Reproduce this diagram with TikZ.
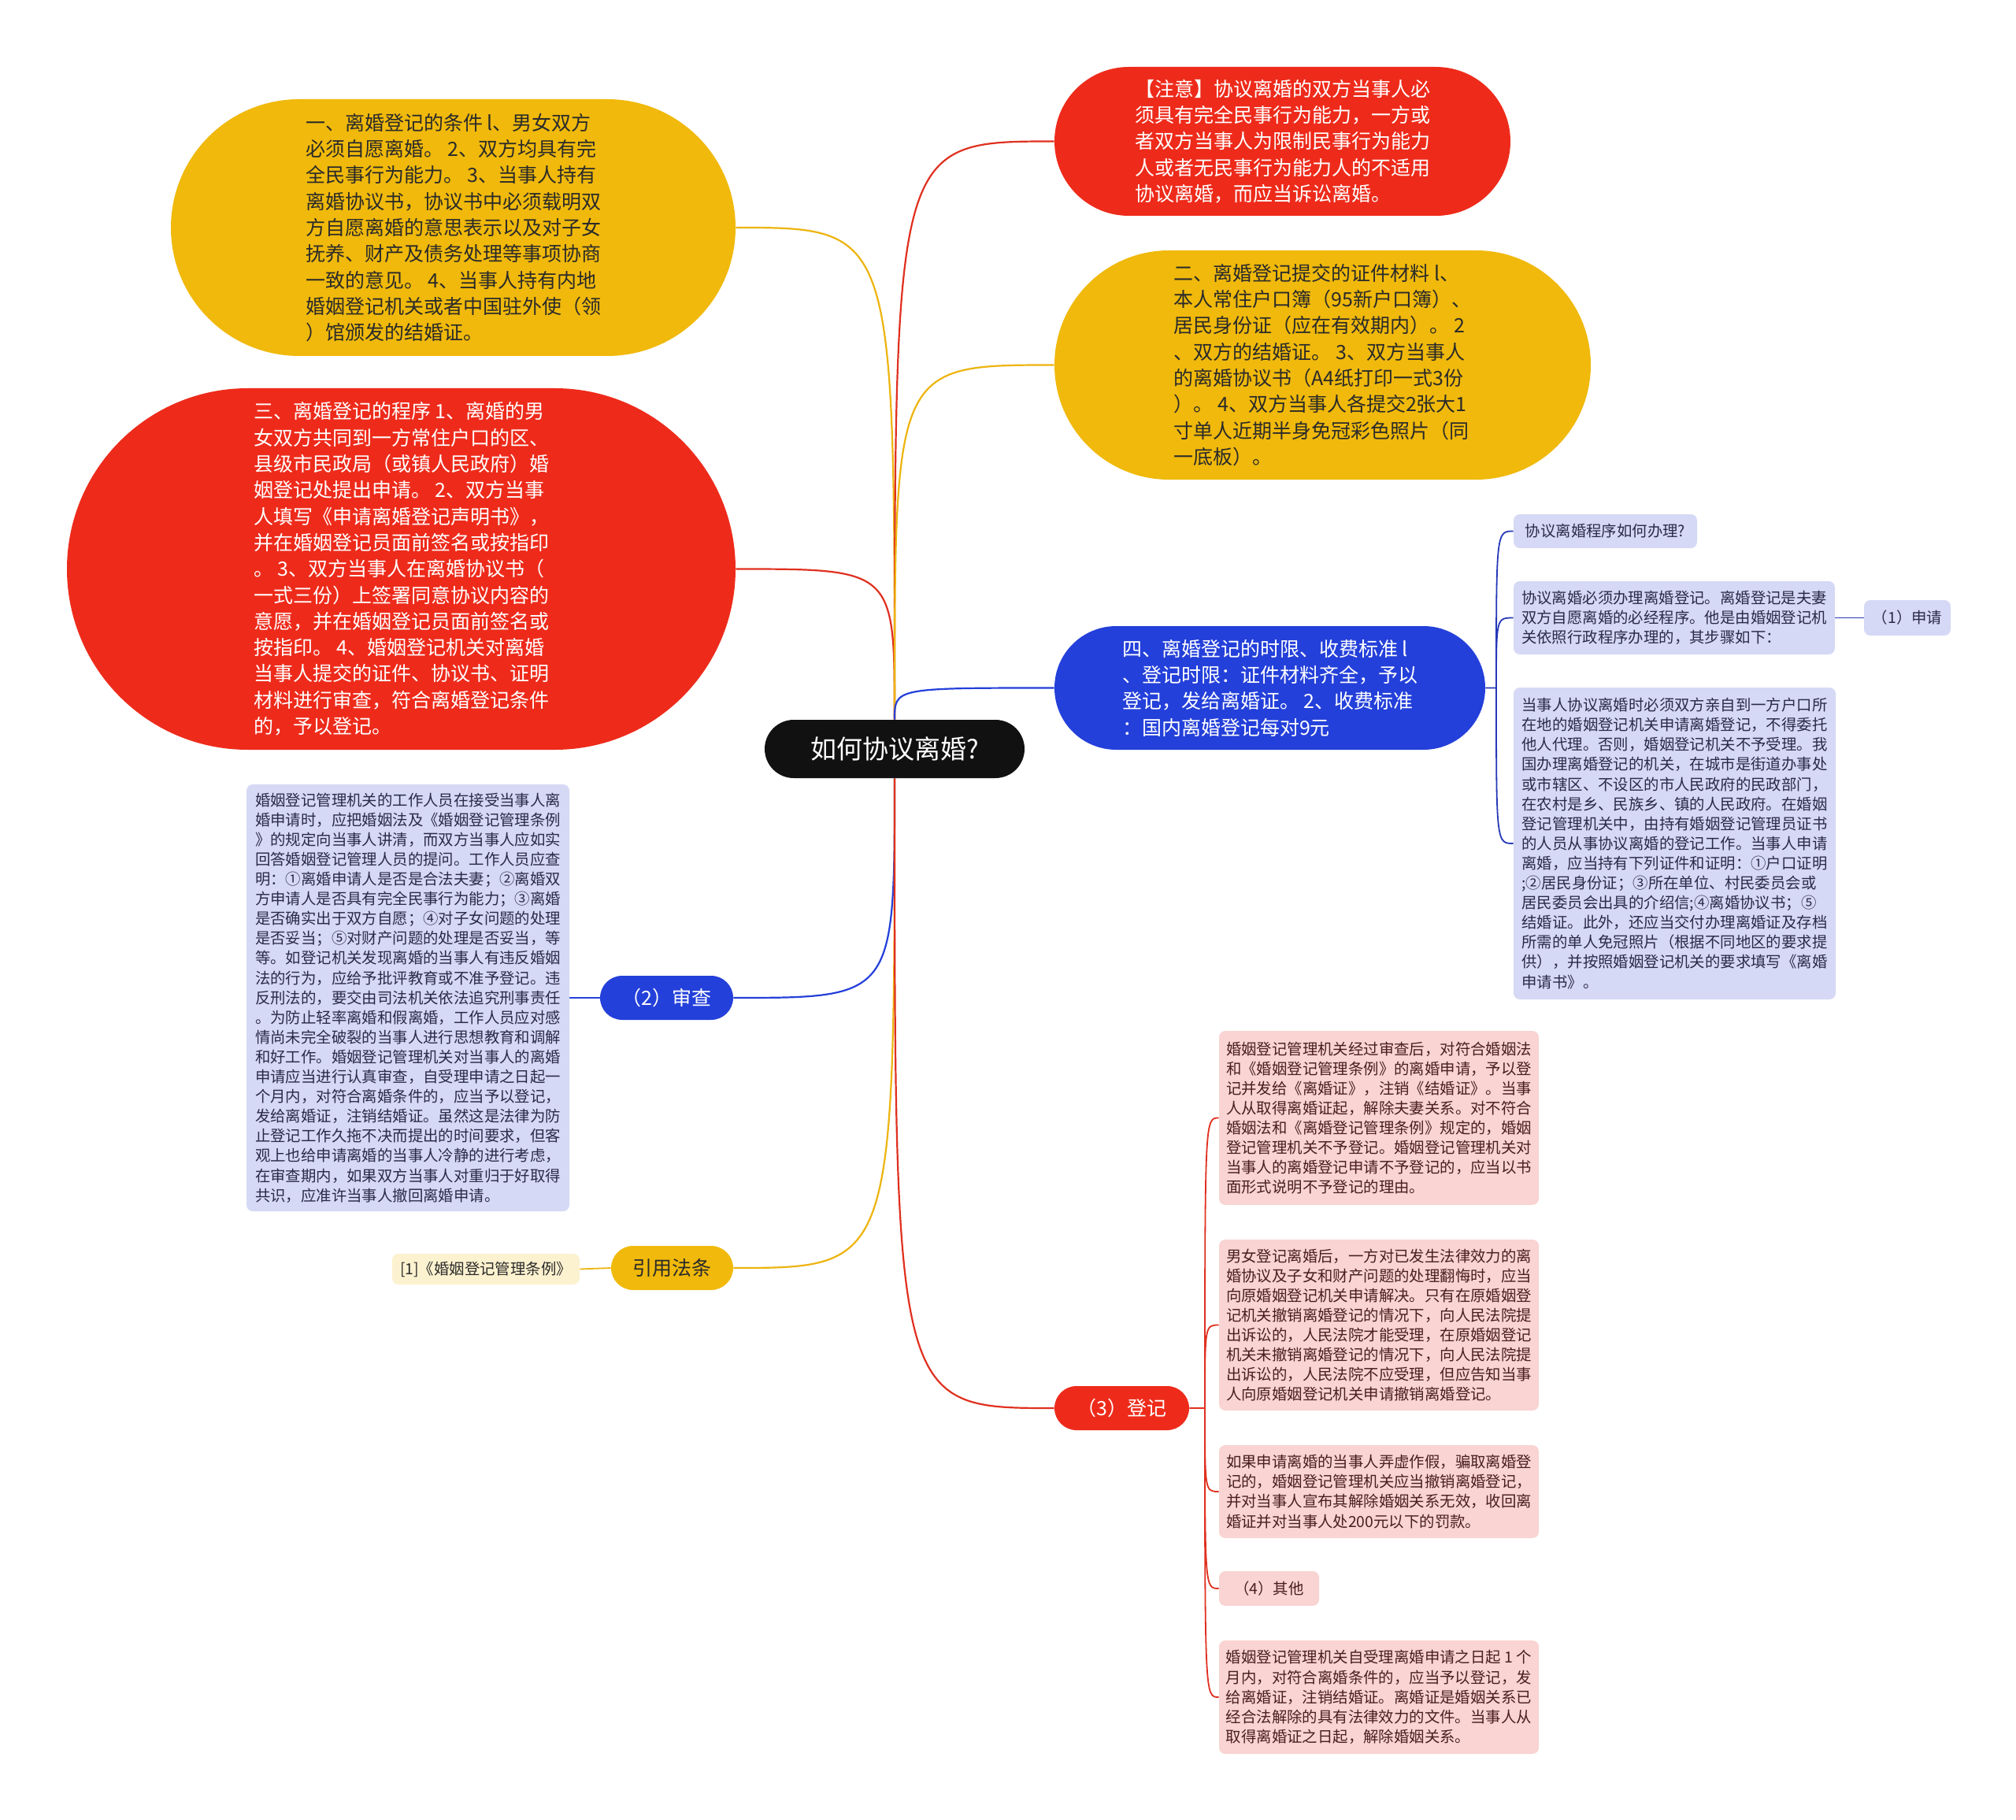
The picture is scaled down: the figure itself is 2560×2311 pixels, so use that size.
\documentclass[tikz,border=0pt]{standalone}
\usepackage{fontspec}
\setmainfont{Noto Sans CJK SC}
\pgfdeclarelayer{bg}
\pgfsetlayers{bg,main}
\definecolor{cyel}{HTML}{F0B90B}
\definecolor{cred}{HTML}{EE2B1B}
\definecolor{cblue}{HTML}{2440DA}
\definecolor{cdark}{HTML}{111111}
\definecolor{clav}{HTML}{D5D9F5}
\definecolor{cpink}{HTML}{F9D4D2}
\definecolor{clight}{HTML}{FDF2CF}
\definecolor{ctxt}{HTML}{2A2A2A}
\definecolor{clavtxt}{HTML}{2A2A48}
\definecolor{cpinktxt}{HTML}{4A1E1E}
\definecolor{lyel}{HTML}{EDB40E}
\definecolor{lred}{HTML}{E0301F}
\definecolor{lblue}{HTML}{2538B8}
\newcommand\bigtxt{\fontsize{12.5pt}{16.65pt}\selectfont}
\newcommand\smalltxt{\fontsize{9.7pt}{12.55pt}\selectfont}
\newcommand\ctrtxt{\fontsize{16.5pt}{20pt}\selectfont}
\tikzset{
 bubble/.style={inner sep=0pt, align=left, font=\bigtxt},
 pill/.style={inner sep=0pt, font=\bigtxt, rounded corners=14pt, minimum height=28pt},
 card/.style={inner sep=0pt, align=left, font=\smalltxt, rounded corners=4pt},
 lav/.style={card, fill=clav, text=clavtxt},
 pnk/.style={card, fill=cpink, text=cpinktxt, minimum width=203pt},
 mainline/.style={line width=1.1pt},
 subline/.style={line width=0.9pt},
}
\begin{document}
\begin{tikzpicture}[x=0.5pt,y=-0.5pt]
\useasboundingbox (0,0) rectangle (2560,2311);
% central
\node[fill=cdark, text=white, font=\ctrtxt, inner sep=0pt, minimum width=165pt, minimum height=37pt, rounded corners=18.5pt] (c) at (1136,951) {如何协议离婚?};
% bubbles
\node[bubble, fill=cyel, text=ctxt, minimum width=358.5pt, minimum height=163pt, rounded corners=81.5pt] (b1) at (575.5,289) {一、离婚登记的条件 l、男女双方\\必须自愿离婚。 2、双方均具有完\\全民事行为能力。 3、当事人持有\\离婚协议书，协议书中必须载明双\\方自愿离婚的意思表示以及对子女\\抚养、财产及债务处理等事项协商\\一致的意见。 4、当事人持有内地\\婚姻登记机关或者中国驻外使（领\\）馆颁发的结婚证。};
\node[bubble, fill=cred, text=white, minimum width=424.5pt, minimum height=229.5pt, rounded corners=114.75pt] (b3) at (509.5,722.5) {三、离婚登记的程序 1、离婚的男\\女双方共同到一方常住户口的区、\\县级市民政局（或镇人民政府）婚\\姻登记处提出申请。 2、双方当事\\人填写《申请离婚登记声明书》，\\并在婚姻登记员面前签名或按指印\\。 3、双方当事人在离婚协议书（\\一式三份）上签署同意协议内容的\\意愿，并在婚姻登记员面前签名或\\按指印。 4、婚姻登记机关对离婚\\当事人提交的证件、协议书、证明\\材料进行审查，符合离婚登记条件\\的，予以登记。};
\node[bubble, fill=cred, text=white, minimum width=289.5pt, minimum height=94.5pt, rounded corners=47.25pt] (bN) at (1628.5,179.5) {【注意】协议离婚的双方当事人必\\须具有完全民事行为能力，一方或\\者双方当事人为限制民事行为能力\\人或者无民事行为能力人的不适用\\协议离婚，而应当诉讼离婚。};
\node[bubble, fill=cyel, text=ctxt, minimum width=340.5pt, minimum height=145.5pt, rounded corners=72.75pt] (b2) at (1679.5,463.5) {二、离婚登记提交的证件材料 l、\\本人常住户口簿（95新户口簿）、\\居民身份证（应在有效期内）。 2\\、双方的结婚证。 3、双方当事人\\的离婚协议书（A4纸打印一式3份\\）。 4、双方当事人各提交2张大1\\寸单人近期半身免冠彩色照片（同\\一底板）。};
\node[bubble, fill=cblue, text=white, minimum width=273.5pt, minimum height=78.5pt, rounded corners=39.25pt] (b4) at (1612.5,873.5) {四、离婚登记的时限、收费标准 l\\、登记时限：证件材料齐全，予以\\登记，发给离婚证。 2、收费标准\\：国内离婚登记每对9元};
% pills
\node[pill, fill=cblue, text=white, minimum width=84.5pt] (p2) at (846.5,1267) {（2）审查};
\node[pill, fill=cyel, text=ctxt, minimum width=77.5pt] (pL) at (853.5,1610) {引用法条};
\node[pill, fill=cred, text=white, minimum width=85.5pt] (p3) at (1424.5,1788) {（3）登记};
% left cards
\node[lav, minimum width=205pt, minimum height=271pt] (L) at (518,1267) {婚姻登记管理机关的工作人员在接受当事人离\\婚申请时，应把婚姻法及《婚姻登记管理条例\\》的规定向当事人讲清，而双方当事人应如实\\回答婚姻登记管理人员的提问。工作人员应查\\明：①离婚申请人是否是合法夫妻；②离婚双\\方申请人是否具有完全民事行为能力；③离婚\\是否确实出于双方自愿；④对子女问题的处理\\是否妥当；⑤对财产问题的处理是否妥当，等\\等。如登记机关发现离婚的当事人有违反婚姻\\法的行为，应给予批评教育或不准予登记。违\\反刑法的，要交由司法机关依法追究刑事责任\\。为防止轻率离婚和假离婚，工作人员应对感\\情尚未完全破裂的当事人进行思想教育和调解\\和好工作。婚姻登记管理机关对当事人的离婚\\申请应当进行认真审查，自受理申请之日起一\\个月内，对符合离婚条件的，应当予以登记，\\发给离婚证，注销结婚证。虽然这是法律为防\\止登记工作久拖不决而提出的时间要求，但客\\观上也给申请离婚的当事人冷静的进行考虑，\\在审查期内，如果双方当事人对重归于好取得\\共识，应准许当事人撤回离婚申请。};
\node[card, fill=clight, text=ctxt, minimum width=119pt, minimum height=19.5pt] (law) at (617,1611.5) {[1]《婚姻登记管理条例》};
% right blue cards
\node[lav, minimum width=116.5pt, minimum height=21.5pt] (r1) at (2038.5,674.5) {协议离婚程序如何办理?};
\node[lav, minimum width=204pt, minimum height=46.5pt] (r2) at (2126,784.5) {协议离婚必须办理离婚登记。离婚登记是夫妻\\双方自愿离婚的必经程序。他是由婚姻登记机\\关依照行政程序办理的，其步骤如下：};
\node[lav, minimum width=55pt, minimum height=22.5pt] (r2a) at (2422,784.5) {（1）申请};
\node[lav, minimum width=204.5pt, minimum height=198pt] (r3) at (2126.5,1071) {当事人协议离婚时必须双方亲自到一方户口所\\在地的婚姻登记机关申请离婚登记，不得委托\\他人代理。否则，婚姻登记机关不予受理。我\\国办理离婚登记的机关，在城市是街道办事处\\或市辖区、不设区的市人民政府的民政部门，\\在农村是乡、民族乡、镇的人民政府。在婚姻\\登记管理机关中，由持有婚姻登记管理员证书\\的人员从事协议离婚的登记工作。当事人申请\\离婚，应当持有下列证件和证明：①户口证明\\;②居民身份证；③所在单位、村民委员会或\\居民委员会出具的介绍信;④离婚协议书；⑤\\结婚证。此外，还应当交付办理离婚证及存档\\所需的单人免冠照片（根据不同地区的要求提\\供），并按照婚姻登记机关的要求填写《离婚\\申请书》。};
% pink cards
\node[pnk, minimum height=110.5pt] (pA) at (1751,1419.5) {婚姻登记管理机关经过审查后，对符合婚姻法\\和《婚姻登记管理条例》的离婚申请，予以登\\记并发给《离婚证》，注销《结婚证》。当事\\人从取得离婚证起，解除夫妻关系。对不符合\\婚姻法和《离婚登记管理条例》规定的，婚姻\\登记管理机关不予登记。婚姻登记管理机关对\\当事人的离婚登记申请不予登记的，应当以书\\面形式说明不予登记的理由。};
\node[pnk, minimum height=108.5pt] (pB) at (1751,1682.5) {男女登记离婚后，一方对已发生法律效力的离\\婚协议及子女和财产问题的处理翻悔时，应当\\向原婚姻登记机关申请解决。只有在原婚姻登\\记机关撤销离婚登记的情况下，向人民法院提\\出诉讼的，人民法院才能受理，在原婚姻登记\\机关未撤销离婚登记的情况下，向人民法院提\\出诉讼的，人民法院不应受理，但应告知当事\\人向原婚姻登记机关申请撤销离婚登记。};
\node[pnk, minimum height=59pt] (pC) at (1751,1894) {如果申请离婚的当事人弄虚作假，骗取离婚登\\记的，婚姻登记管理机关应当撤销离婚登记，\\并对当事人宣布其解除婚姻关系无效，收回离\\婚证并对当事人处200元以下的罚款。};
\node[card, fill=cpink, text=cpinktxt, minimum width=63.5pt, minimum height=22pt] (pD) at (1611.5,2017) {（4）其他};
\node[pnk, minimum height=72pt] (pE) at (1751,2155) {婚姻登记管理机关自受理离婚申请之日起 1 个\\月内，对符合离婚条件的，应当予以登记，发\\给离婚证，注销结婚证。离婚证是婚姻关系已\\经合法解除的具有法律效力的文件。当事人从\\取得离婚证之日起，解除婚姻关系。};
% junction points
\coordinate (b4j) at (1900,873.5);
\coordinate (p3j) at (1530,1788);
\begin{pgfonlayer}{bg}
\fill[white] (0,0) rectangle (2560,2311);
\draw[mainline, lyel] (c.north) .. controls (c.north |- b1.east) .. (b1.east);
\draw[mainline, lred] (c.north) .. controls (c.north |- b3.east) .. (b3.east);
\draw[mainline, lred] (c.north) .. controls (c.north |- bN.west) .. (bN.west);
\draw[mainline, lyel] (c.north) .. controls (c.north |- b2.west) .. (b2.west);
\draw[mainline, cblue] (c.north) .. controls (c.north |- b4.west) .. (b4.west);
\draw[mainline, cblue] (c.south) .. controls (c.south |- p2.east) .. (p2.east);
\draw[mainline, lyel] (c.south) .. controls (c.south |- pL.east) .. (pL.east);
\draw[mainline, lred] (c.south) .. controls (c.south |- p3.west) .. (p3.west);
\draw[subline, cblue] (p2.west) -- (L.east);
\draw[subline, lyel] (pL.west) -- (law.east);
\draw[subline, lblue] (b4.east) -- (b4j) .. controls (b4j |- r1.west) .. (r1.west);
\draw[subline, lblue] (b4j) .. controls (b4j |- r2.west) .. (r2.west);
\draw[subline, lblue] (b4j) .. controls (b4j |- r3.west) .. (r3.west);
\draw[subline, lblue] (r2.east) -- (r2a.west);
\draw[subline, lred] (p3.east) -- (p3j) .. controls (p3j |- pA.west) .. (pA.west);
\draw[subline, lred] (p3j) .. controls (p3j |- pB.west) .. (pB.west);
\draw[subline, lred] (p3j) .. controls (p3j |- pC.west) .. (pC.west);
\draw[subline, lred] (p3j) .. controls (p3j |- pD.west) .. (pD.west);
\draw[subline, lred] (p3j) .. controls (p3j |- pE.west) .. (pE.west);
\end{pgfonlayer}
\end{tikzpicture}
\end{document}
